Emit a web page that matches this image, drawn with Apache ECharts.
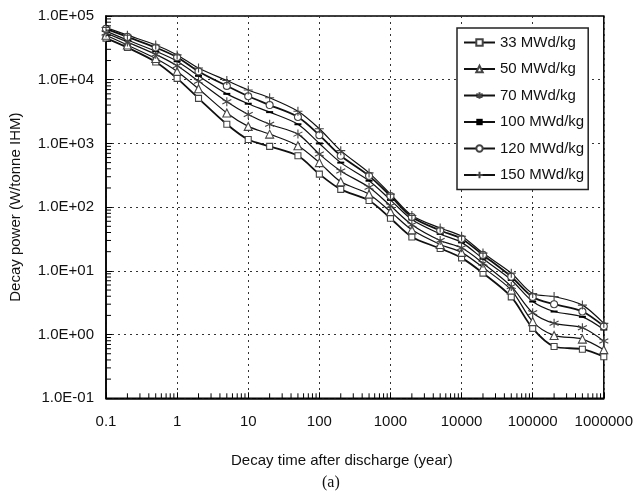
<!DOCTYPE html>
<html><head><meta charset="utf-8">
<script src="https://cdn.jsdelivr.net/npm/echarts@6/dist/echarts.min.js"></script>
<style>html,body{margin:0;padding:0;background:#fff}#c{width:636px;height:491px}</style>
</head><body><div id="c"></div>
<script>
const xValues = [0.1,0.2,0.5,1,2,5,10,20,50,100,200,500,1000,2000,5000,10000,20000,50000,100000,200000,500000,1000000];
const b33  = [45000,32000,19000,10500,5100,2000,1150,900,640,330,190,127,67,34,22.5,16,9.2,3.9,1.25,0.65,0.59,0.45];
const b50  = [50000,35000,21500,13500,7200,3000,1850,1400,920,500,250,160,85,44,26,19.5,11.3,5.0,1.6,0.97,0.85,0.58];
const b70  = [54000,39000,25000,16500,9500,4500,2850,2000,1400,680,370,205,105,53,30,23,13.2,5.7,2.2,1.5,1.28,0.79];
const b100 = [58000,42000,28000,19500,11500,6000,4200,3100,2000,1000,500,260,130,64,38,28,15.5,7.2,3.3,2.3,1.9,1.2];
const b120 = [63000,47000,32000,22500,13500,8000,5500,4000,2600,1350,640,310,150,70,43,32,17.8,8.1,3.9,3.0,2.3,1.35];
const b150 = [66000,50000,35000,24500,15300,9700,6900,5200,3200,1700,770,345,160,74,47,35,19,9.2,4.4,3.95,2.9,1.5];
const seriesNames = ['33 MWd/kg','50 MWd/kg','70 MWd/kg','100 MWd/kg','120 MWd/kg','150 MWd/kg'];
const xTickLabels = ['0.1','1','10','100','1000','10000','100000','1000000'];
const yTickLabels = ['1.0E-01','1.0E+00','1.0E+01','1.0E+02','1.0E+03','1.0E+04','1.0E+05'];
const xMinorTicks = [];
for (let d = -1; d < 6; d++) for (let k = 2; k <= 9; k++) xMinorTicks.push(+(k * Math.pow(10, d)).toPrecision(3));
const yMinorTicks = [];
for (let d = -1; d < 5; d++) for (let k = 2; k <= 9; k++) yMinorTicks.push(+(k * Math.pow(10, d)).toPrecision(3));

const FONT = 'Liberation Sans, Arial, sans-serif';
const chart = echarts.init(document.getElementById('c'), null, {renderer: 'canvas'});

const markerDefs = [
  {symbol: 'rect', size: 6, width: 1.8, fill: '#fff'},
  {symbol: 'triangle', size: 8, width: 1.2, fill: '#fff'},
  {symbol: 'path://M5,0L5,10M0.5,2.5L9.5,7.5M0.5,7.5L9.5,2.5', size: 9, width: 1.2, fill: 'none'},
  {symbol: 'rect', size: [7, 2], width: 1.2, fill: '#000', dash: true},
  {symbol: 'circle', size: 7, width: 1.8, fill: '#fff'},
  {symbol: 'path://M5,0L5,10M0,5L10,5', size: 9, width: 1.2, fill: 'none'}
];
const dataSets = [b33, b50, b70, b100, b120, b150];

const lineSeries = dataSets.map((arr, i) => {
  const m = markerDefs[i];
  return {
    name: seriesNames[i],
    type: 'line',
    smooth: 0.3,
    data: xValues.map((x, j) => [x, arr[j]]),
    symbol: m.symbol,
    symbolSize: m.size,
    showAllSymbol: true,
    lineStyle: {color: '#111', width: m.width},
    itemStyle: m.dash ? {color: '#000', borderWidth: 0} :
      {color: m.fill === 'none' ? '#fff' : m.fill, borderColor: '#444', borderWidth: 1.1},
    emphasis: {disabled: true},
    z: 3
  };
});

function tickSeries(data, vertical) {
  return {
    type: 'custom',
    silent: true,
    clip: false,
    z: 4,
    data: data,
    encode: {x: 0, y: 1},
    renderItem: function (params, api) {
      const p = api.coord([api.value(0), api.value(1)]);
      return {
        type: 'line',
        shape: vertical ? {x1: p[0], y1: p[1], x2: p[0], y2: p[1] - 5}
                        : {x1: p[0], y1: p[1], x2: p[0] + 5, y2: p[1]},
        style: {stroke: '#000', lineWidth: 1}
      };
    }
  };
}

chart.setOption({
  animation: false,
  backgroundColor: '#fff',
  grid: {left: 105.7, right: 30.3, top: 16, bottom: 92.7, show: true, borderColor: '#000', borderWidth: 1.5, backgroundColor: 'transparent'},
  legend: {
    data: seriesNames,
    orient: 'vertical',
    left: 457, top: 28,
    padding: [7, 4, 7, 6],
    itemWidth: 31, itemHeight: 8, itemGap: 11.5,
    borderColor: '#222', borderWidth: 1.5,
    backgroundColor: '#fff',
    textStyle: {fontFamily: FONT, fontSize: 15, color: '#111'},
    selectedMode: false
  },
  xAxis: {
    type: 'log', logBase: 10, min: 0.1, max: 1000000, splitNumber: 7,
    name: 'Decay time after discharge (year)', nameLocation: 'middle', nameGap: 55,
    nameTextStyle: {fontFamily: FONT, fontSize: 15, color: '#111', padding: [0, 26, 0, 0]},
    axisLine: {show: true, onZero: false, lineStyle: {color: '#000', width: 1.5}},
    axisTick: {show: true, inside: true, length: 6, lineStyle: {color: '#000'}},
    axisLabel: {fontFamily: FONT, fontSize: 15, color: '#111', margin: 16,
      formatter: v => xTickLabels[Math.round(Math.log10(v)) + 1]},
    splitLine: {show: true, lineStyle: {color: '#333', type: [2, 4], width: 1}}
  },
  yAxis: {
    type: 'log', logBase: 10, min: 0.1, max: 100000, splitNumber: 6,
    name: 'Decay power (W/tonne IHM)', nameLocation: 'middle', nameGap: 83,
    nameTextStyle: {fontFamily: FONT, fontSize: 15, color: '#111'},
    axisLine: {show: true, onZero: false, lineStyle: {color: '#000', width: 1.5}},
    axisTick: {show: true, inside: true, length: 6, lineStyle: {color: '#000'}},
    axisLabel: {fontFamily: FONT, fontSize: 15, color: '#111', margin: 12,
      formatter: v => yTickLabels[Math.round(Math.log10(v)) + 1]},
    splitLine: {show: true, lineStyle: {color: '#333', type: [2, 4], width: 1}}
  },
  graphic: [{
    type: 'text', left: 322, top: 475,
    style: {text: '(a)', font: '16px "Liberation Serif", "Times New Roman", serif', fill: '#111'}
  }],
  series: lineSeries.concat([
    tickSeries(xMinorTicks.map(v => [v, 0.1]), true),
    tickSeries(yMinorTicks.map(v => [0.1, v]), false)
  ])
});
</script></body></html>
